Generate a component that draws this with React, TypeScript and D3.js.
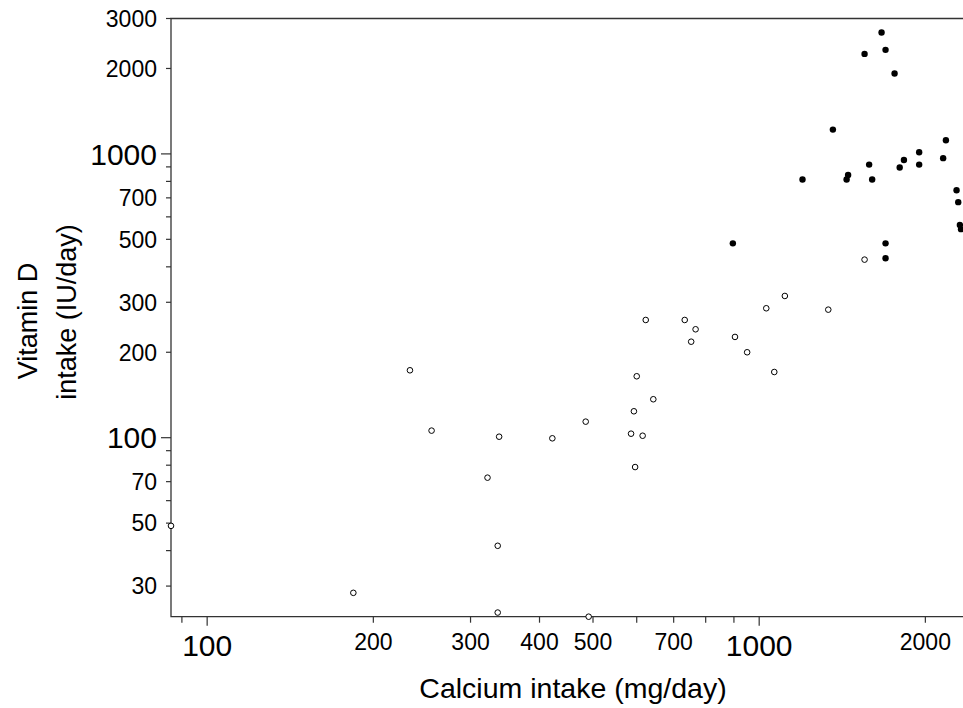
import React, { useEffect, useRef } from "react";
import * as d3 from "d3";

// hollow circles
const openCalcium = [86, 184, 233, 255, 322, 338, 336, 336, 422, 485, 491, 586, 593, 600, 615, 623, 643, 596, 733, 753, 767, 904, 951, 1030, 1065, 1113, 1334, 1552];
const openVitD = [48.9, 28.4, 172.8, 105.9, 72.3, 100.8, 41.6, 24.2, 99.5, 113.9, 23.4, 103.3, 123.9, 164.6, 101.6, 259.9, 136.6, 78.8, 259.9, 217.9, 241, 226.5, 200, 285.8, 170.4, 315.8, 282.6, 424.1];

// filled dots
const fullCalcium = [1666, 1552, 1694, 1759, 1360, 2179, 1949, 1829, 1797, 1949, 2154, 1582, 1198, 1449, 1440, 1602, 2278, 2294, 2310, 2321, 1694, 1694, 896];
const fullVitD = [2677, 2251, 2326, 1919, 1218, 1117, 1014, 952, 895, 917, 966, 917, 812, 843, 812, 812, 745, 676, 562, 543, 484, 429, 484];

const xLabels = [100, 200, 300, 400, 500, 700, 1000, 2000];
const xMinor = [90, 600, 800, 900];
const yLabels = [30, 50, 70, 100, 200, 300, 500, 700, 1000, 2000, 3000];
const yMinor = [40, 60, 80, 90, 400, 600, 800, 900];

const App = () => {
  const svgRef = useRef(null);

  useEffect(() => {
    const width = 963,
      height = 708;
    const left = 171,
      right = 963,
      top = 18.5,
      bottom = 616.7;

    const svg = d3.select(svgRef.current);
    svg.selectAll("*").remove();
    svg.attr("width", width).attr("height", height);

    const x = d3.scaleLog().domain([86, 2340]).range([left, right]);
    const y = d3.scaleLog().domain([23.4, 3000]).range([bottom, top]);
    const big = (v) => v === 100 || v === 1000;
    const font = "'Liberation Sans', Arial, sans-serif";

    // frame: left axis, bottom axis, top line
    svg.append("path")
      .attr("d", `M${right},${top}H${left}V${bottom}H${right}`)
      .attr("fill", "none")
      .attr("stroke", "#333")
      .attr("stroke-width", 1.3);

    // x ticks
    const gx = svg.append("g");
    gx.selectAll("line")
      .data(xLabels.concat(xMinor))
      .join("line")
      .attr("x1", (d) => x(d))
      .attr("x2", (d) => x(d))
      .attr("y1", bottom)
      .attr("y2", (d) => bottom + (big(d) ? 9 : 6))
      .attr("stroke", "#333")
      .attr("stroke-width", 1.2);
    gx.selectAll("text")
      .data(xLabels)
      .join("text")
      .attr("x", (d) => x(d))
      .attr("y", (d) => (big(d) ? 656 : 650))
      .attr("text-anchor", "middle")
      .attr("font-family", font)
      .attr("font-size", (d) => (big(d) ? 30 : 23))
      .text((d) => d);

    // y ticks
    const gy = svg.append("g");
    gy.selectAll("line")
      .data(yLabels.concat(yMinor))
      .join("line")
      .attr("x1", left)
      .attr("x2", (d) => left - (big(d) ? 10 : 5))
      .attr("y1", (d) => y(d))
      .attr("y2", (d) => y(d))
      .attr("stroke", "#333")
      .attr("stroke-width", 1.2);
    gy.selectAll("text")
      .data(yLabels)
      .join("text")
      .attr("x", 157)
      .attr("y", (d) => y(d))
      .attr("dy", "0.36em")
      .attr("text-anchor", "end")
      .attr("font-family", font)
      .attr("font-size", (d) => (big(d) ? 30 : 23))
      .text((d) => d);

    // axis titles
    svg.append("text")
      .attr("x", 573)
      .attr("y", 698)
      .attr("text-anchor", "middle")
      .attr("font-family", font)
      .attr("font-size", 28.5)
      .text("Calcium intake (mg/day)");

    svg.append("text")
      .attr("transform", "translate(37,321) rotate(-90)")
      .attr("text-anchor", "middle")
      .attr("font-family", font)
      .attr("font-size", 27)
      .text("Vitamin D");
    svg.append("text")
      .attr("transform", "translate(76,312) rotate(-90)")
      .attr("text-anchor", "middle")
      .attr("font-family", font)
      .attr("font-size", 27)
      .text("intake (IU/day)");

    // points
    svg.append("g")
      .selectAll("circle")
      .data(openCalcium.map((c, i) => [c, openVitD[i]]))
      .join("circle")
      .attr("cx", (d) => x(d[0]))
      .attr("cy", (d) => y(d[1]))
      .attr("r", 2.8)
      .attr("fill", "white")
      .attr("stroke", "black")
      .attr("stroke-width", 1);

    svg.append("g")
      .selectAll("circle")
      .data(fullCalcium.map((c, i) => [c, fullVitD[i]]))
      .join("circle")
      .attr("cx", (d) => x(d[0]))
      .attr("cy", (d) => y(d[1]))
      .attr("r", 3.2)
      .attr("fill", "black");
  }, []);

  return (
    <svg
      ref={svgRef}
      style={{ position: "absolute", left: 0, top: 0, background: "white" }}
    ></svg>
  );
};

export default App;
